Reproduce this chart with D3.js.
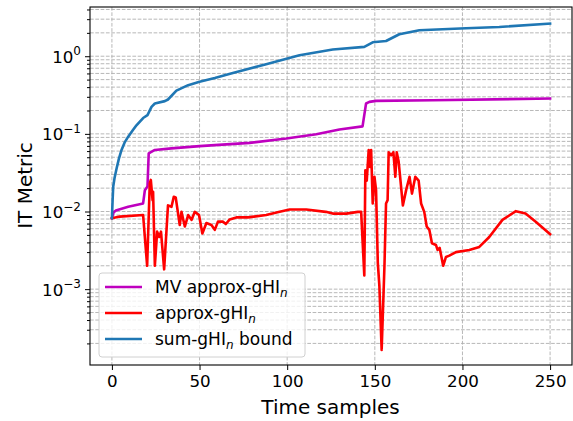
<!DOCTYPE html>
<html>
<head>
<meta charset="utf-8">
<script src="https://cdn.jsdelivr.net/npm/d3@7"></script>
<style>
  body { margin: 0; background: #fff; }
  svg { font-family: "DejaVu Sans", sans-serif; }
</style>
</head>
<body>
<div id="chart"></div>
<script>
// values (time sample, metric value)
var mvTime  = [0, 1, 2.7, 9.3, 17.8, 18.8, 20.3, 21, 24.5, 34, 50, 58.7, 78.6, 99.5, 116.6, 129.8, 143, 145, 146.9, 150.7, 183, 250];
var mvValue = [0.0082, 0.0098, 0.0104, 0.0115, 0.0127, 0.0188, 0.021, 0.056, 0.062, 0.065, 0.0695, 0.0716, 0.0766, 0.087, 0.099, 0.114, 0.125, 0.246, 0.258, 0.266, 0.271, 0.285];

var apTime  = [0, 4.5, 17.8, 20.1, 21.6, 22.2, 23.2, 23.5, 24.5, 25.8, 27, 28, 29.8, 32, 34, 35.3, 36.4, 38.7, 39.7, 41.6, 43.5, 45.4, 47.3, 49.7,
               51.6, 53.9, 56.8, 58.7, 60.5, 63.4, 65, 67.2, 71, 77.6, 88, 95.7, 101.4, 110.9, 122, 126, 133.7, 140.3, 142.2,
               144, 144.6, 145.4, 146.5, 147.3, 147.9, 148.8, 149.8, 150.7, 151.7, 152.6, 153.9, 155.5, 156.4, 157.3, 157.9,
               159.3, 160.6, 161.7, 162.5, 163.6, 166, 167.9, 169.8, 171.2, 173.1, 175, 176.4, 178.2, 179.6, 181.1, 182.6,
               184.9, 185.8, 187, 189, 190.6, 192.5, 196.3, 203.9, 209.6, 215.3, 222.8, 230.5, 236, 241.8, 250];
var apValue = [0.0082, 0.0086, 0.009, 0.002, 0.023, 0.0255, 0.014, 0.018, 0.002, 0.0055, 0.0047, 0.0055, 0.0018, 0.012, 0.0115, 0.0155, 0.0152, 0.0067, 0.0099, 0.0064, 0.009, 0.0078, 0.0099, 0.009,
               0.0052, 0.0071, 0.0067, 0.0058, 0.0074, 0.0074, 0.0069, 0.0079, 0.0084, 0.0084, 0.009, 0.0099, 0.0106, 0.0106, 0.0099, 0.0094, 0.0094, 0.0099, 0.0099,
               0.0015, 0.034, 0.025, 0.062, 0.0375, 0.062, 0.0127, 0.028, 0.019, 0.0022, 0.0011, 0.000165, 0.002, 0.0127, 0.014, 0.058,
               0.053, 0.058, 0.028, 0.058, 0.044, 0.012, 0.019, 0.028, 0.017, 0.028, 0.025, 0.0127, 0.0099, 0.0064, 0.0058, 0.0039,
               0.0037, 0.0032, 0.0034, 0.002, 0.0026, 0.0027, 0.003, 0.0032, 0.0035, 0.0047, 0.0078, 0.0101, 0.0094, 0.0074, 0.0051];

var sumTime  = [0, 0.4, 0.75, 1.5, 2.7, 4, 5.5, 7.2, 9.3, 12, 14, 17.8, 20.3, 22.6, 24.5, 30.2, 32, 36.8, 43.5, 50, 58.7, 69, 88, 107, 126, 144, 148.8, 156.4, 164, 175.4, 202, 221, 250];
var sumValue = [0.0082, 0.014, 0.021, 0.027, 0.036, 0.048, 0.062, 0.077, 0.092, 0.112, 0.129, 0.16, 0.174, 0.223, 0.246, 0.264, 0.277, 0.36, 0.424, 0.47, 0.526, 0.61, 0.79, 1.03, 1.22, 1.32, 1.51, 1.57, 1.92, 2.16, 2.29, 2.38, 2.63];

var xTicks = [0, 50, 100, 150, 200, 250];
var yTicks = [1e-3, 1e-2, 1e-1, 1];
var yTickExp = ["\u22123", "\u22122", "\u22121", "0"];

var width = 573, height = 421;
var plotL = 90, plotR = 572, plotT = 7, plotB = 365;

var svg = d3.select("#chart").append("svg")
    .attr("width", width)
    .attr("height", height);

var x = d3.scaleLinear().domain([-12.5, 262.5]).range([plotL, plotR]);
var y = d3.scaleLog().domain([Math.pow(10, -3.977), Math.pow(10, 0.634)]).range([plotB, plotT]);

// minor ticks on the log axis
var minorTicks = [];
for (var e = -4; e <= 0; e++) {
    for (var m = 2; m <= 9; m++) {
        var v = m * Math.pow(10, e);
        if (v >= y.domain()[0] && v <= y.domain()[1]) minorTicks.push(v);
    }
}

// grid (dashed, major + minor on y)
var grid = svg.append("g").attr("stroke", "#b0b0b0").attr("stroke-width", 0.9).attr("stroke-dasharray", "3.7,1.6");
grid.selectAll(".gx").data(xTicks).enter().append("line")
    .attr("x1", function(d){ return x(d); }).attr("x2", function(d){ return x(d); })
    .attr("y1", plotT).attr("y2", plotB);
grid.selectAll(".gy").data(yTicks.concat(minorTicks)).enter().append("line")
    .attr("x1", plotL).attr("x2", plotR)
    .attr("y1", function(d){ return y(d); }).attr("y2", function(d){ return y(d); });

// lines
svg.append("clipPath").attr("id", "plotclip").append("rect")
    .attr("x", plotL).attr("y", plotT).attr("width", plotR - plotL).attr("height", plotB - plotT);

function drawSeries(times, values, color) {
    var pts = times.map(function(t, i){ return [t, values[i]]; });
    var line = d3.line()
        .x(function(d){ return x(d[0]); })
        .y(function(d){ return y(d[1]); });
    svg.append("path")
        .attr("clip-path", "url(#plotclip)")
        .attr("d", line(pts))
        .attr("fill", "none")
        .attr("stroke", color)
        .attr("stroke-width", 2.6)
        .attr("stroke-linejoin", "round")
        .attr("stroke-linecap", "square");
}
drawSeries(mvTime, mvValue, "#bf00bf");
drawSeries(apTime, apValue, "#ff0000");
drawSeries(sumTime, sumValue, "#1f77b4");

// axes
var xAxis = d3.axisBottom(x).tickValues(xTicks).tickSize(5).tickPadding(5).tickFormat(d3.format("d"));
var gx = svg.append("g").attr("transform", "translate(0," + plotB + ")").call(xAxis);
gx.select(".domain").remove();
gx.selectAll("text").attr("font-size", 16.7).attr("font-family", "DejaVu Sans").attr("fill", "#000");

var yAxis = d3.axisLeft(y).tickValues(yTicks).tickSize(5).tickFormat("");
var gy = svg.append("g").attr("transform", "translate(" + plotL + ",0)").call(yAxis);
gy.select(".domain").remove();
var yMinor = d3.axisLeft(y).tickValues(minorTicks).tickSize(3).tickFormat("");
var gym = svg.append("g").attr("transform", "translate(" + plotL + ",0)").call(yMinor);
gym.select(".domain").remove();

// y tick labels with superscript exponents
yTicks.forEach(function(d, i){
    var t = svg.append("text")
        .attr("x", plotL - 9)
        .attr("y", y(d) + 6.5)
        .attr("text-anchor", "end")
        .attr("font-size", 16.7);
    t.append("tspan").text("10");
    t.append("tspan").attr("dy", -7.5).attr("font-size", 12).text(yTickExp[i]);
});

// frame
svg.append("rect")
    .attr("x", plotL).attr("y", plotT).attr("width", plotR - plotL).attr("height", plotB - plotT)
    .attr("fill", "none").attr("stroke", "#000").attr("stroke-width", 1.1);

// axis labels
svg.append("text")
    .attr("x", (plotL + plotR) / 2 - 0.5).attr("y", 414)
    .attr("text-anchor", "middle").attr("font-size", 20)
    .text("Time samples");
svg.append("text")
    .attr("transform", "translate(32," + 185.5 + ") rotate(-90)")
    .attr("text-anchor", "middle").attr("font-size", 20)
    .text("IT Metric");

// legend
var legendItems = [
    {pre: "MV approx-gHI", post: "", color: "#bf00bf"},
    {pre: "approx-gHI", post: "", color: "#ff0000"},
    {pre: "sum-gHI", post: " bound", color: "#1f77b4"}
];
var lg = svg.append("g");
lg.append("rect")
    .attr("x", 99).attr("y", 273).attr("width", 206).attr("height", 84)
    .attr("rx", 3).attr("fill", "#fff").attr("fill-opacity", 0.8)
    .attr("stroke", "#d0d0d0").attr("stroke-width", 1);
legendItems.forEach(function(d, i){
    var cy = 287 + i * 26;
    lg.append("line")
        .attr("x1", 105).attr("x2", 142).attr("y1", cy).attr("y2", cy)
        .attr("stroke", d.color).attr("stroke-width", 2.6);
    var t = lg.append("text").attr("x", 155).attr("y", cy + 6).attr("font-size", 17);
    t.append("tspan").text(d.pre);
    t.append("tspan").attr("dy", 3.5).attr("font-size", 12).attr("font-style", "italic").text("n");
    if (d.post) t.append("tspan").attr("dy", -3.5).text(d.post);
});
</script>
</body>
</html>
